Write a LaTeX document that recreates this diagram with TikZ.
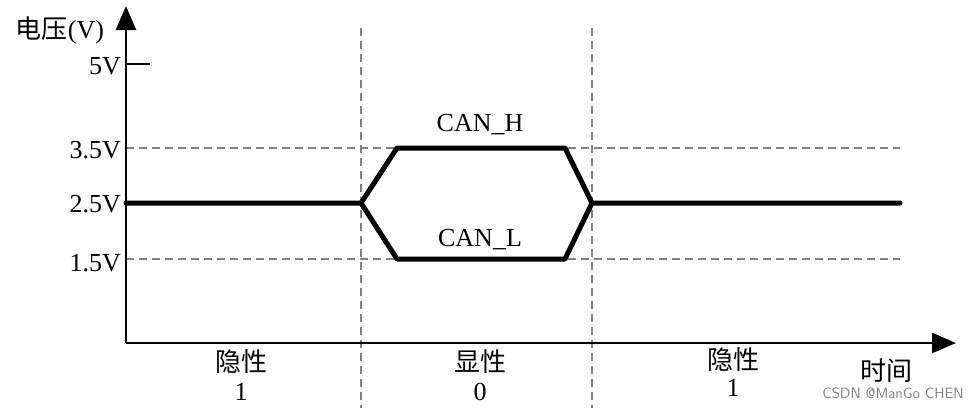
\documentclass[tikz,border=0pt]{standalone}
\usepackage{fontspec}
\setmainfont{Liberation Serif}
\newfontfamily\cjk{Noto Sans CJK SC}
\usetikzlibrary{arrows.meta}
\begin{document}
\begin{tikzpicture}[x=1pt,y=-1pt,
  axis/.style={line width=2.6pt,-{Triangle[length=24pt,width=20pt]}},
  guide/.style={gray,line width=2pt,dash pattern=on 8pt off 5pt},
  sig/.style={line width=5pt,line join=round,line cap=round},
  lbl/.style={font=\fontsize{26}{28}\selectfont},
  tick/.style={font=\fontsize{26}{28}\selectfont,anchor=east,inner sep=0pt}]
\useasboundingbox (0,0) rectangle (970,408);
\coordinate (o) at (126,343);
\coordinate (ytop) at (126,6);
\coordinate (xend) at (956,343);
\draw[guide] (126,148) -- (900,148);
\draw[guide] (126,259) -- (900,259);
\draw[guide] (361,28) -- (361,408);
\draw[guide] (592,28) -- (592,408);
\draw[axis] (o) -- (ytop);
\draw[axis] (o) -- (xend);
\draw[line width=2.6pt] (126,64) -- (150,64);
\draw[sig] (126,203) -- (361,203) -- (397,148) -- (565,148) -- (592,203) -- (900,203);
\draw[sig] (361,203) -- (397,259) -- (565,259) -- (592,203);
\node[tick] (t5) at (121,66) {5V};
\node[tick] (t35) at (121,150) {3.5V};
\node[tick] (t25) at (121,204) {2.5V};
\node[tick] (t15) at (121,263) {1.5V};
\node[lbl] (yl) at (60,30) {{\cjk 电压}(V)};
\node[lbl] (xl) at (886,371) {\cjk 时间};
\node[lbl] (ch) at (480,125) {CAN\_H};
\node[lbl] (cl) at (480,240) {CAN\_L};
\node[lbl] (a1) at (241,362) {\cjk 隐性};
\node[lbl] (a2) at (241,392) {1};
\node[lbl] (b1) at (480,362) {\cjk 显性};
\node[lbl] (b2) at (480,392) {0};
\node[lbl] (c1) at (733,360) {\cjk 隐性};
\node[lbl] (c2) at (733,388) {1};
\node[gray,font=\fontsize{15}{17}\selectfont\sffamily] (wm) at (893,393) {CSDN @ManGo CHEN};
\end{tikzpicture}
\end{document}
